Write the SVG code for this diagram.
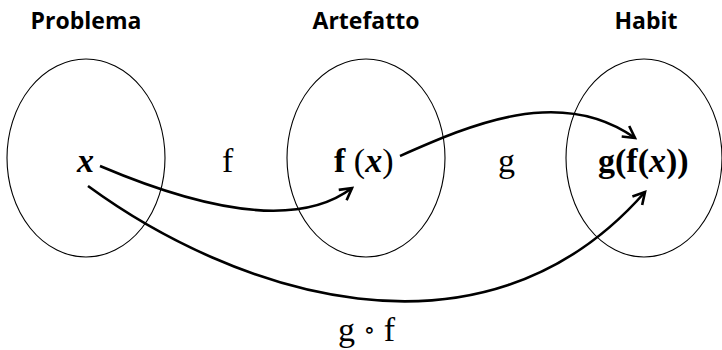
<svg xmlns="http://www.w3.org/2000/svg" width="722" height="350" viewBox="0 0 722 350">
<style>
.title{font-family:"Open Sans","Liberation Sans",sans-serif;font-weight:bold;font-size:23px;fill:#000;text-anchor:middle}
.set{fill:none;stroke:#000;stroke-width:1.1}
.math{font-family:"Liberation Serif","DejaVu Serif",serif;font-size:34px;fill:#000}
.b{font-weight:bold}
.i{font-style:italic;font-weight:bold}
.conn{fill:none;stroke:#000;stroke-width:2.6}
</style>
<defs>
<marker id="arr" viewBox="0 0 12 12" refX="10" refY="6" markerWidth="6" markerHeight="6" orient="auto" markerUnits="strokeWidth">
<path d="M1,1 L10,6 L1,11" fill="none" stroke="#000" stroke-width="2"/>
</marker>
</defs>
<rect width="722" height="350" fill="#fff"/>
<g id="problema">
<text class="title" x="86" y="29">Problema</text>
<ellipse class="set" cx="86" cy="158" rx="79" ry="99"/>
<text class="math" x="77" y="172"><tspan class="i">x</tspan></text>
</g>
<g id="artefatto">
<text class="title" x="366" y="29">Artefatto</text>
<ellipse class="set" cx="366" cy="158" rx="79" ry="99"/>
<text class="math" x="334" y="172"><tspan class="b">f</tspan> (<tspan class="i">x</tspan>)</text>
</g>
<g id="habit">
<text class="title" x="646" y="29">Habit</text>
<ellipse class="set" cx="644" cy="158" rx="78" ry="99"/>
<text class="math" x="598" y="172"><tspan class="b">g(f(</tspan><tspan class="i">x</tspan><tspan class="b">))</tspan></text>
</g>
<g id="connectors">
<path class="conn" d="M100,166 C180,200 290,235 352,188" marker-end="url(#arr)"/>
<path class="conn" d="M400,156 C470,125 560,85 635,138" marker-end="url(#arr)"/>
<path class="conn" d="M88,186 C230,290 480,380 645,192" marker-end="url(#arr)"/>
<text class="math" x="222" y="172">f</text>
<text class="math" x="498" y="172">g</text>
<text class="math" x="338" y="341">g <tspan font-size="24" dy="-3">∘</tspan><tspan dy="3"> f</tspan></text>
</g>
</svg>
